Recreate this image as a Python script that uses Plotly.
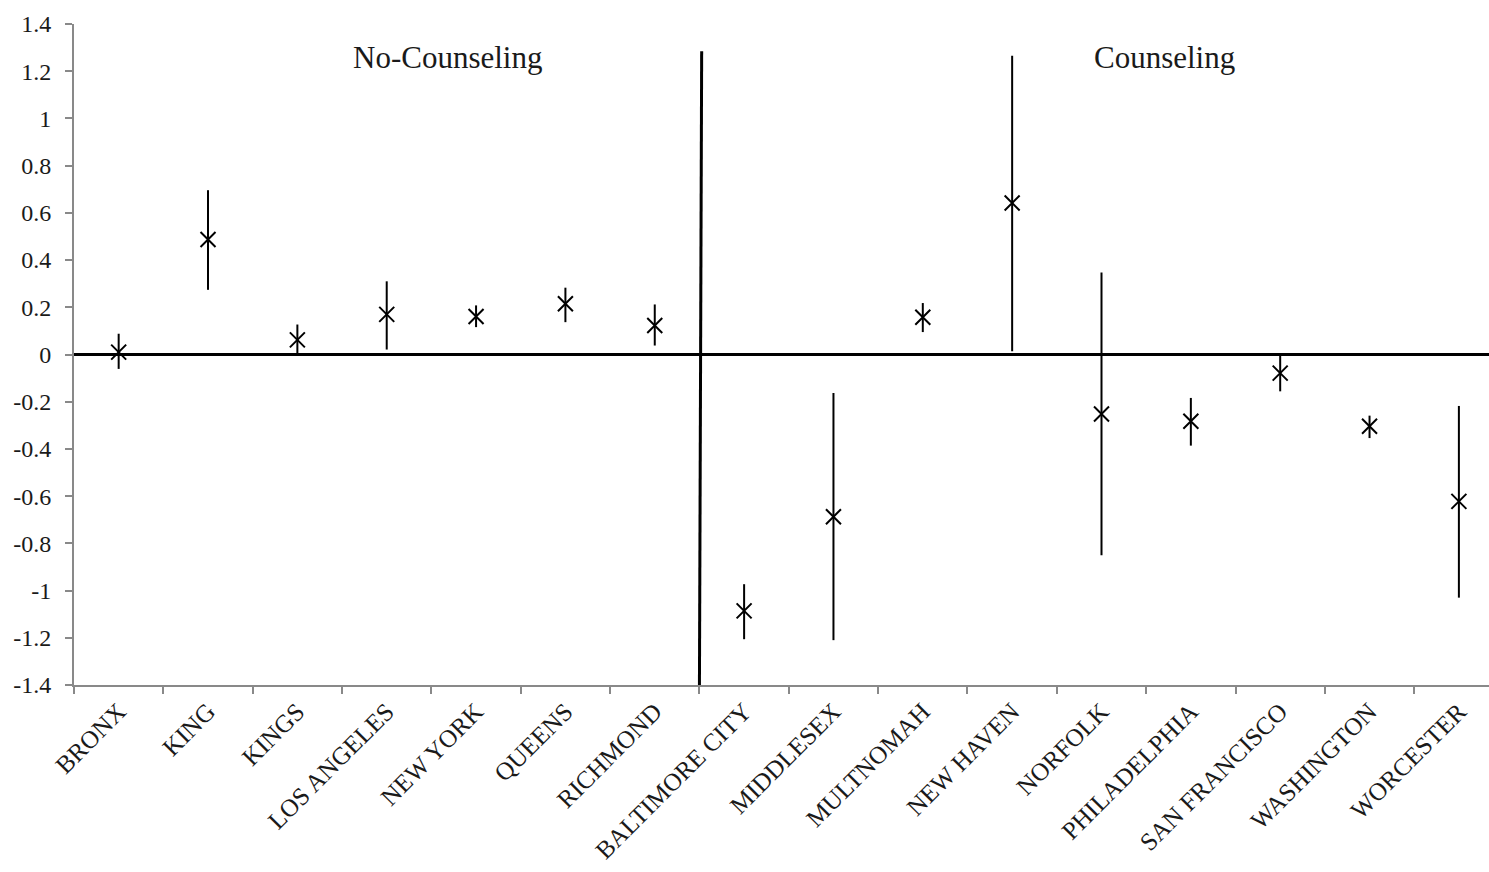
import plotly.graph_objects as go

counties = ["BRONX", "KING", "KINGS", "LOS ANGELES", "NEW YORK", "QUEENS", "RICHMOND",
            "BALTIMORE CITY", "MIDDLESEX", "MULTNOMAH", "NEW HAVEN", "NORFOLK",
            "PHILADELPHIA", "SAN FRANCISCO", "WASHINGTON", "WORCESTER"]
estimate = [0.01, 0.487, 0.062, 0.17, 0.161, 0.215, 0.123,
            -1.086, -0.687, 0.158, 0.642, -0.252, -0.283, -0.079, -0.304, -0.622]
upper = [0.088, 0.696, 0.127, 0.31, 0.208, 0.283, 0.212,
         -0.973, -0.163, 0.218, 1.266, 0.347, -0.184, 0.0, -0.259, -0.218]
lower = [-0.061, 0.274, 0.0, 0.021, 0.116, 0.137, 0.038,
         -1.206, -1.21, 0.095, 0.014, -0.85, -0.386, -0.156, -0.354, -1.03]
y_ticks = [-1.4, -1.2, -1.0, -0.8, -0.6, -0.4, -0.2, 0, 0.2, 0.4, 0.6, 0.8, 1.0, 1.2, 1.4]
y_tick_text = ["-1.4", "-1.2", "-1", "-0.8", "-0.6", "-0.4", "-0.2", "0",
               "0.2", "0.4", "0.6", "0.8", "1", "1.2", "1.4"]
group_labels = ["No-Counseling", "Counseling"]

err_plus = [u - e for u, e in zip(upper, estimate)]
err_minus = [e - l for e, l in zip(estimate, lower)]

FONT = "Liberation Serif"
AXIS_GRAY = "#898989"

fig = go.Figure()
fig.add_trace(go.Scatter(
    x=counties, y=estimate, mode="markers",
    marker=dict(symbol="x-thin", size=15, color="black",
                line=dict(width=2, color="black")),
    error_y=dict(type="data", symmetric=False, array=err_plus, arrayminus=err_minus,
                 thickness=2, width=0, color="black"),
    showlegend=False, hoverinfo="x+y",
))

# vertical divider between groups
fig.add_shape(type="line", xref="x", yref="y", x0=6.5, y0=-1.4, x1=6.525, y1=1.285,
              line=dict(color="black", width=3), layer="above")

fig.add_annotation(x=3.675, y=1.26, xref="x", yref="y", text=group_labels[0],
                   showarrow=False, font=dict(family=FONT, size=31, color="#1a1a1a"))
fig.add_annotation(x=11.71, y=1.26, xref="x", yref="y", text=group_labels[1],
                   showarrow=False, font=dict(family=FONT, size=31, color="#1a1a1a"))

fig.update_layout(
    width=1489, height=872,
    margin=dict(l=74, r=0, t=24, b=187),
    paper_bgcolor="white", plot_bgcolor="white",
    font=dict(family=FONT, color="#1a1a1a"),
    xaxis=dict(
        type="category", categoryorder="array", categoryarray=counties,
        range=[-0.5, 15.337], tickangle=-45, tickson="boundaries",
        ticks="outside", ticklen=7, tickcolor=AXIS_GRAY, tickwidth=2,
        showline=True, linecolor=AXIS_GRAY, linewidth=2,
        showgrid=False, zeroline=False,
        tickfont=dict(family=FONT, size=25, color="#1a1a1a"),
    ),
    yaxis=dict(
        range=[-1.4, 1.4], tickvals=y_ticks, ticktext=y_tick_text,
        ticks="outside", ticklen=7, tickcolor=AXIS_GRAY, tickwidth=2,
        showline=True, linecolor=AXIS_GRAY, linewidth=2,
        showgrid=False, zeroline=True, zerolinecolor="black", zerolinewidth=3,
        tickfont=dict(family=FONT, size=24, color="#1a1a1a"),
        ticklabelstandoff=9,
    ),
)

fig.write_html("out.html")
